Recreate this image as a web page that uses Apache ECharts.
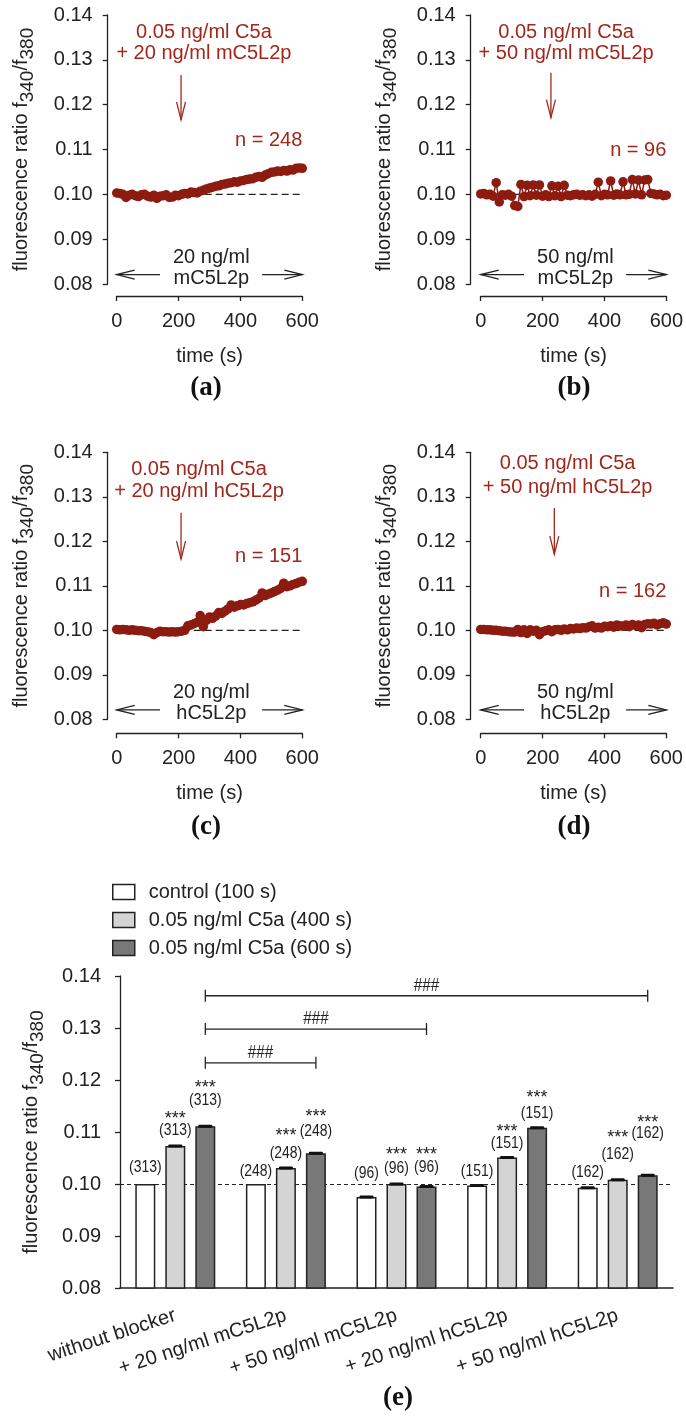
<!DOCTYPE html>
<html>
<head>
<meta charset="utf-8">
<script src="https://cdn.jsdelivr.net/npm/echarts@6/dist/echarts.min.js"></script>
<style>
  html, body { margin: 0; padding: 0; background: #fff; }
  #chart { width: 686px; height: 1416px; }
</style>
</head>
<body>
<div id="chart"></div>
<script>
// ---- data: time courses (a)-(d) ----
var timeS = [0,10,20,30,40,50,60,70,80,90,100,110,120,130,140,150,160,170,180,190,200,
  210,220,230,240,250,260,270,280,290,300,310,320,330,340,350,360,370,380,390,400,
  410,420,430,440,450,460,470,480,490,500,510,520,530,540,550,560,570,580,590,600];

var ratioA = [0.1003,0.1002,0.1000,0.0993,0.0998,0.1000,0.0997,0.0995,0.0999,0.1000,
  0.0996,0.0994,0.0998,0.0991,0.0996,0.0997,0.0999,0.0993,0.0994,0.0998,
  0.0997,0.1000,0.1002,0.1001,0.1005,0.1004,0.1003,0.1007,0.1009,0.1012,
  0.1014,0.1016,0.1018,0.1019,0.1022,0.1023,0.1025,0.1026,0.1028,0.1027,
  0.1030,0.1031,0.1033,0.1034,0.1035,0.1038,0.1040,0.1038,0.1043,0.1046,
  0.1049,0.1050,0.1052,0.1051,0.1053,0.1052,0.1055,0.1054,0.1058,0.1059,0.1058];

var ratioB = [0.1001,0.1002,0.0999,0.1000,0.0996,0.1026,0.0983,0.0999,0.0998,0.1000,
  0.0996,0.0975,0.0973,0.1022,0.0995,0.1020,0.0997,0.1021,0.0998,0.1021,
  0.0996,0.0999,0.0995,0.1019,0.0997,0.1018,0.0995,0.1020,0.0998,0.0997,
  0.0999,0.1000,0.0998,0.0999,0.0997,0.0999,0.0996,0.1000,0.1027,0.0997,
  0.1000,0.0999,0.1030,0.0998,0.1001,0.0999,0.1028,0.0999,0.1000,0.1033,
  0.1001,0.1032,0.0999,0.1032,0.1033,0.1002,0.1001,0.0999,0.1000,0.0997,0.0998];

var ratioC = [0.1002,0.1001,0.1002,0.1001,0.1000,0.1001,0.1000,0.0999,0.0999,0.0998,
  0.0997,0.0995,0.0990,0.0995,0.0998,0.0997,0.0997,0.0996,0.0997,0.0996,
  0.0997,0.0998,0.1000,0.1010,0.1012,0.1015,0.1018,0.1033,0.1008,0.1022,
  0.1030,0.1027,0.1032,0.1040,0.1038,0.1043,0.1048,0.1057,0.1052,0.1055,
  0.1058,0.1057,0.1060,0.1062,0.1064,0.1068,0.1072,0.1084,0.1078,0.1081,
  0.1084,0.1087,0.1090,0.1094,0.1106,0.1098,0.1100,0.1103,0.1105,0.1108,0.1110];

var ratioD = [0.1002,0.1002,0.1001,0.1001,0.1000,0.1000,0.0999,0.0998,0.0998,0.0997,
  0.0996,0.0996,0.1002,0.0995,0.1001,0.0993,0.1001,0.0998,0.1000,0.0990,
  0.0997,0.0999,0.1001,0.0997,0.1001,0.1002,0.1000,0.1003,0.1001,0.1004,
  0.1003,0.1005,0.1004,0.1006,0.1005,0.1008,0.1010,0.1005,0.1007,0.1005,
  0.1009,0.1008,0.1010,0.1007,0.1012,0.1010,0.1009,0.1012,0.1008,0.1013,
  0.1011,0.1012,0.1006,0.1013,0.1015,0.1014,0.1016,0.1012,0.1015,0.1017,0.1014];

var cellsN = [248, 96, 151, 162];
var blockerDose = ['20 ng/ml', '50 ng/ml', '20 ng/ml', '50 ng/ml'];
var blockers = ['mC5L2p', 'mC5L2p', 'hC5L2p', 'hC5L2p'];
var addTime = [208, 227, 208, 238];
var panelTags = ['(a)', '(b)', '(c)', '(d)'];
var baseline = 0.10;

// ---- data: bar chart (e) ----
var groups = ['without blocker', '+ 20 ng/ml mC5L2p', '+ 50 ng/ml mC5L2p',
  '+ 20 ng/ml hC5L2p', '+ 50 ng/ml hC5L2p'];
var seriesNames = ['control (100 s)', '0.05 ng/ml C5a (400 s)', '0.05 ng/ml C5a (600 s)'];
var ctrl100 = [0.1000, 0.1000, 0.0975, 0.0997, 0.0993];
var c5a400 = [0.1073, 0.1031, 0.1000, 0.1051, 0.1008];
var c5a600 = [0.1111, 0.1059, 0.0995, 0.1108, 0.1017];
var err100 = [0, 0, 0.0001, 0.0001, 0.0001];
var err400 = [0.0001, 0.0001, 0.0001, 0.0001, 0.0001];
var err600 = [0.0001, 0.0001, 0.0001, 0.0001, 0.0001];
var groupN = [313, 248, 96, 151, 162];
var stars = ['', '***', '***'];
var bracketTo = [1, 2, 4];
var bracketY = [0.1233, 0.1298, 0.1362];
var bracketMark = '###';

var yMin = 0.08, yMax = 0.14, yStep = 0.01;

// ---- styles / layout ----
var FONT = '"Liberation Sans", Arial, sans-serif';
var INK = '#222';
var RED = '#a1271c';
var DOT = '#8d1b10';
var barColors = ['#ffffff', '#d4d4d4', '#787878'];
var barW = 20, barGapPx = 10;
var barOffsets = [-(barW + barGapPx), 0, barW + barGapPx];

var gridPos = [
  { left: 116.7, top: 15, width: 185.6, height: 269, yOff: 9, xOff: 12 },
  { left: 480.7, top: 15, width: 186.6, height: 269, yOff: 10, xOff: 12 },
  { left: 116.7, top: 452.3, width: 185.6, height: 267, yOff: 9, xOff: 14 },
  { left: 480.7, top: 452.3, width: 185.6, height: 267, yOff: 10, xOff: 14 }
];
// annotation placement in data units
var annoLayout = [
  { textT: 282, l1: 0.1362, l2: 0.1315, aFrom: 0.1266, aTo: 0.1166, nY: 0.1121 },
  { textT: 276, l1: 0.1362, l2: 0.1315, aFrom: 0.1271, aTo: 0.1171, nY: 0.1097 },
  { textT: 266, l1: 0.1362, l2: 0.1311, aFrom: 0.1264, aTo: 0.1160, nY: 0.1167 },
  { textT: 281, l1: 0.1374, l2: 0.1322, aFrom: 0.1275, aTo: 0.1171, nY: 0.1088 }
];
// bar label lifts (px above bar top) per series, per group
var nRaise = [[17, 13, 24, 14, 15], [16, 15, 16, 14, 26], [26, 22, 19, 15, 42]];
var starRaise = [[0, 0, 0, 0, 0], [16, 22, 18, 16, 21], [17, 19, 18, 20, 15]];

var yName = '{m|fluorescence ratio f}{s|340}{m|/f}{s|380}';
var yNameStyle = {
  color: INK, fontFamily: FONT, fontSize: 20,
  rich: {
    m: { fontSize: 20, fontFamily: FONT, color: INK, lineHeight: 26, verticalAlign: 'top' },
    s: { fontSize: 19, fontFamily: FONT, color: INK, lineHeight: 18, verticalAlign: 'bottom' }
  }
};

function yAxisFor(gridIndex, offset, gap, margin) {
  return {
    type: 'value', gridIndex: gridIndex, min: yMin, max: yMax, interval: yStep, offset: offset,
    axisLine: { show: true, onZero: false, lineStyle: { color: INK, width: 1.3 } },
    axisTick: { show: true, length: 5, lineStyle: { color: INK, width: 1.3 } },
    axisLabel: { fontSize: 20, color: INK, fontFamily: FONT, margin: margin,
      formatter: function (v) { return v.toFixed(2); } },
    splitLine: { show: false },
    name: yName, nameLocation: 'middle', nameRotate: 90, nameGap: gap,
    nameTextStyle: yNameStyle
  };
}

// condensed text helper (the source figure uses a narrow face)
function narrowText(s, x, y, size, squeeze) {
  return { type: 'text', x: x, y: y, scaleX: squeeze,
    style: { text: s, x: 0, y: 0, font: size + 'px ' + FONT, fill: INK,
      align: 'center', verticalAlign: 'middle' } };
}

var grids = [], xAxes = [], yAxes = [], series = [];
var ratios = [ratioA, ratioB, ratioC, ratioD];

function annoRender(i) {
  var L = annoLayout[i];
  return function (params, api) {
    var kids = [];
    function txt(t, v, s, color, align) {
      var p = api.coord([t, v]);
      kids.push({ type: 'text', style: { text: s, x: p[0], y: p[1], fill: color,
        font: '20px ' + FONT, align: align || 'center', verticalAlign: 'middle' } });
    }
    function arrow(a, b, color) {
      var p0 = api.coord(a), p1 = api.coord(b);
      var dx = p1[0] - p0[0], dy = p1[1] - p0[1];
      var len = Math.sqrt(dx * dx + dy * dy), ux = dx / len, uy = dy / len;
      var hl = 18, hw = 4.5;
      kids.push({ type: 'line', shape: { x1: p0[0], y1: p0[1], x2: p1[0], y2: p1[1] },
        style: { stroke: color, lineWidth: 1.3 } });
      kids.push({ type: 'polyline', shape: { points: [
        [p1[0] - ux * hl - uy * hw, p1[1] - uy * hl + ux * hw],
        [p1[0], p1[1]],
        [p1[0] - ux * hl + uy * hw, p1[1] - uy * hl - ux * hw]] },
        style: { stroke: color, lineWidth: 1.3, fill: null } });
    }
    txt(L.textT, L.l1, '0.05 ng/ml C5a', RED);
    txt(L.textT, L.l2, '+ ' + blockerDose[i] + ' ' + blockers[i], RED);
    arrow([addTime[i], L.aFrom], [addTime[i], L.aTo], RED);
    txt(600, L.nY, 'n = ' + cellsN[i], RED, 'right');
    txt(306, 0.0860, blockerDose[i], INK);
    txt(306, 0.0812, blockers[i], INK);
    arrow([140, 0.0821], [0, 0.0821], INK);
    arrow([470, 0.0821], [600, 0.0821], INK);
    return { type: 'group', children: kids };
  };
}

gridPos.forEach(function (g, i) {
  grids.push({ left: g.left, top: g.top, width: g.width, height: g.height });
  xAxes.push({
    type: 'value', gridIndex: i, min: 0, max: 600, interval: 200, offset: g.xOff,
    axisLine: { show: true, onZero: false, lineStyle: { color: INK, width: 1.3 } },
    axisTick: { show: true, length: 5, lineStyle: { color: INK, width: 1.3 } },
    axisLabel: { fontSize: 20, color: INK, fontFamily: FONT, margin: 15 },
    splitLine: { show: false },
    name: 'time (s)', nameLocation: 'middle', nameGap: 50,
    nameTextStyle: { fontSize: 20, color: INK, fontFamily: FONT }
  });
  yAxes.push(yAxisFor(i, g.yOff, 70, 15));
  series.push({
    type: 'line', xAxisIndex: i, yAxisIndex: i, silent: true, z: 1,
    data: [[0, baseline], [600, baseline]], symbol: 'none',
    lineStyle: { color: INK, width: 1.2, type: [7, 4] }
  });
  series.push({
    type: 'line', xAxisIndex: i, yAxisIndex: i, z: 2,
    data: timeS.map(function (t, k) { return [t, ratios[i][k]]; }),
    symbol: 'circle', symbolSize: 9.5, showAllSymbol: true,
    itemStyle: { color: DOT }, lineStyle: { color: DOT, width: 1.5 }
  });
  series.push({
    type: 'custom', xAxisIndex: i, yAxisIndex: i, z: 3, silent: true,
    data: [[addTime[i], baseline]], renderItem: annoRender(i)
  });
});

// ---- panel (e) ----
grids.push({ left: 120, top: 976, width: 553, height: 312 });
xAxes.push({
  type: 'category', gridIndex: 4, data: groups,
  axisLine: { show: true, lineStyle: { color: INK, width: 1.5 } },
  axisTick: { show: false },
  axisLabel: { interval: 0, rotate: 18, fontSize: 20, color: INK, fontFamily: FONT, margin: 27 }
});
yAxes.push(yAxisFor(4, 0, 73, 19));

var barValues = [ctrl100, c5a400, c5a600];
var barErrs = [err100, err400, err600];
barValues.forEach(function (vals, s) {
  var bs = {
    type: 'bar', name: seriesNames[s], xAxisIndex: 4, yAxisIndex: 4, z: 2,
    data: vals, barWidth: barW, barGap: (barGapPx / barW * 100) + '%',
    itemStyle: { color: barColors[s], borderColor: INK, borderWidth: 1.5 }
  };
  if (s === 0) {
    bs.markLine = { silent: true, symbol: 'none', z: 1, label: { show: false },
      lineStyle: { color: INK, width: 1, type: [4, 3] }, data: [{ yAxis: baseline }] };
  }
  series.push(bs);
});

var barItems = [];
barValues.forEach(function (vals, s) {
  vals.forEach(function (v, g) { barItems.push([g, v, s, barErrs[s][g]]); });
});

series.push({
  type: 'custom', xAxisIndex: 4, yAxisIndex: 4, z: 4, silent: true,
  data: barItems,
  renderItem: function (params, api) {
    var g = api.value(0), v = api.value(1), s = api.value(2), e = api.value(3);
    var p = api.coord([g, v]);
    var x = p[0] + barOffsets[s];
    var kids = [];
    if (e > 0) {
      var hi = api.coord([g, v + e])[1], lo = api.coord([g, v - e])[1];
      var h = Math.max(3, lo - hi);
      kids.push({ type: 'rect', shape: { x: x - 7, y: (hi + lo) / 2 - h / 2, width: 14, height: h, r: 1 },
        style: { fill: '#111' } });
    }
    var yN = p[1] - nRaise[s][g];
    kids.push(narrowText('(' + groupN[g] + ')', x, yN, 17, 0.82));
    if (stars[s]) {
      kids.push(narrowText(stars[s], x, yN - starRaise[s][g] + 5, 18, 1));
    }
    return { type: 'group', children: kids };
  }
});

series.push({
  type: 'custom', xAxisIndex: 4, yAxisIndex: 4, z: 4, silent: true,
  data: bracketTo.map(function (to, k) { return [0, to, bracketY[k]]; }),
  renderItem: function (params, api) {
    var y = api.value(2);
    var p0 = api.coord([api.value(0), y]), p1 = api.coord([api.value(1), y]);
    var x0 = p0[0] + barOffsets[2], x1 = p1[0] + barOffsets[2], py = p0[1];
    var st = { stroke: INK, lineWidth: 1.3 };
    return { type: 'group', children: [
      { type: 'line', shape: { x1: x0, y1: py, x2: x1, y2: py }, style: st },
      { type: 'line', shape: { x1: x0, y1: py - 6, x2: x0, y2: py + 6 }, style: st },
      { type: 'line', shape: { x1: x1, y1: py - 6, x2: x1, y2: py + 6 }, style: st },
      narrowText(bracketMark, (x0 + x1) / 2, py - 10, 18, 0.85)
    ] };
  }
});

var tagPos = [[206, 388], [574, 388], [206, 827], [574, 827]];
var graphics = panelTags.map(function (t, i) {
  return { type: 'text', x: tagPos[i][0], y: tagPos[i][1],
    style: { text: t, font: 'bold 27px "Liberation Serif", "DejaVu Serif", serif', fill: '#111',
      align: 'center', verticalAlign: 'middle' } };
});
graphics.push({ type: 'text', x: 398, y: 1398,
  style: { text: '(e)', font: 'bold 27px "Liberation Serif", "DejaVu Serif", serif', fill: '#111',
    align: 'center', verticalAlign: 'middle' } });

var myChart = echarts.init(document.getElementById('chart'));
myChart.setOption({
  animation: false,
  backgroundColor: '#fff',
  legend: {
    data: seriesNames, orient: 'vertical', left: 107, top: 877,
    itemWidth: 22, itemHeight: 15, itemGap: 8, icon: 'rect',
    itemStyle: { borderColor: INK, borderWidth: 1.5 },
    textStyle: { fontSize: 20, color: INK, fontFamily: FONT, padding: [0, 0, 0, 9] }
  },
  grid: grids,
  xAxis: xAxes,
  yAxis: yAxes,
  series: series,
  graphic: graphics
});
</script>
</body>
</html>
